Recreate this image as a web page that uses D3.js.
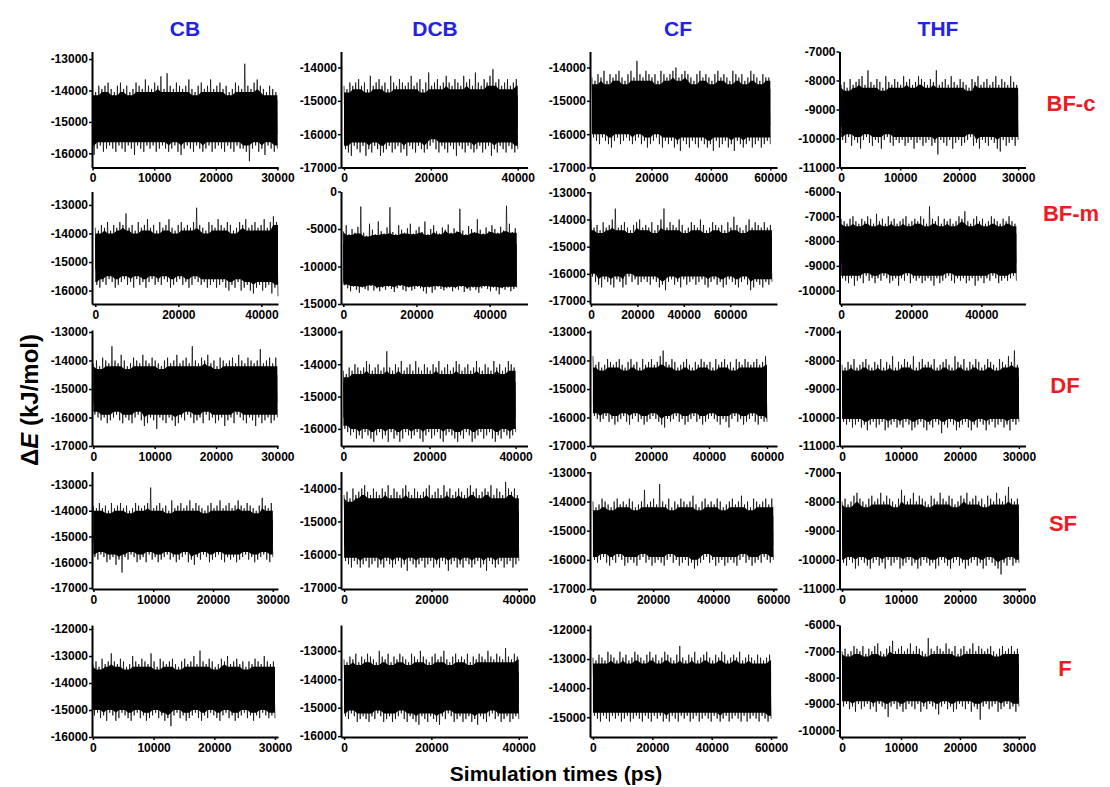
<!DOCTYPE html>
<html>
<head>
<meta charset="utf-8">
<script src="https://cdn.jsdelivr.net/npm/d3@7"></script>
<style>
  body { margin: 0; background: #fff; }
  text { font-family: "Liberation Sans", Arial, sans-serif; font-weight: bold; }
</style>
</head>
<body>
<svg id="chart"></svg>
<script>
// ---- data (kJ/mol, ps) ----
const solvents = ['CB', 'DCB', 'CF', 'THF']
const forms = ['BF-c', 'BF-m', 'DF', 'SF', 'F']

// panels are row-major: form by form, solvents left to right
const runLength = [
    30000, 40000, 60000, 30000,
    44000, 47400, 78000, 50000,
    30000, 40000, 60000, 30000,
    30000, 40000, 60000, 30000,
    30000, 40000, 60000, 30000
]
const xTicks = [
    [0, 10000, 20000, 30000], [0, 20000, 40000], [0, 20000, 40000, 60000], [0, 10000, 20000, 30000],
    [0, 20000, 40000], [0, 20000, 40000], [0, 20000, 40000, 60000], [0, 20000, 40000],
    [0, 10000, 20000, 30000], [0, 20000, 40000], [0, 20000, 40000, 60000], [0, 10000, 20000, 30000],
    [0, 10000, 20000, 30000], [0, 20000, 40000], [0, 20000, 40000, 60000], [0, 10000, 20000, 30000],
    [0, 10000, 20000, 30000], [0, 20000, 40000], [0, 20000, 40000, 60000], [0, 10000, 20000, 30000]
]
const xRange = [
    [-90, 30100], [-700, 42250], [-675, 62250], [-290, 31250],
    [-790, 44000], [-630, 50350], [-430, 80200], [-480, 52600],
    [-225, 30110], [-555, 42770], [-1020, 63450], [-440, 31125],
    [-230, 30870], [-710, 41980], [-985, 61230], [-440, 31125],
    [-150, 30500], [-700, 42000], [-1000, 62000], [-440, 31125]
]
const yTicks = [
    [-13000, -14000, -15000, -16000], [-14000, -15000, -16000, -17000], [-14000, -15000, -16000, -17000], [-7000, -8000, -9000, -10000, -11000],
    [-13000, -14000, -15000, -16000], [0, -5000, -10000, -15000], [-13000, -14000, -15000, -16000, -17000], [-6000, -7000, -8000, -9000, -10000],
    [-13000, -14000, -15000, -16000, -17000], [-13000, -14000, -15000, -16000], [-13000, -14000, -15000, -16000, -17000], [-7000, -8000, -9000, -10000, -11000],
    [-13000, -14000, -15000, -16000, -17000], [-14000, -15000, -16000, -17000], [-13000, -14000, -15000, -16000, -17000], [-7000, -8000, -9000, -10000, -11000],
    [-12000, -13000, -14000, -15000, -16000], [-13000, -14000, -15000, -16000], [-12000, -13000, -14000, -15000], [-6000, -7000, -8000, -9000, -10000]
]
const yRange = [
    [-16450, -12760], [-17000, -13520], [-17000, -13520], [-11000, -7000],
    [-16470, -12530], [-15000, 0], [-17110, -12970], [-10540, -6000],
    [-17000, -12930], [-16530, -12940], [-17000, -12930], [-11000, -6930],
    [-17040, -12476], [-17050, -13485], [-17000, -12970], [-11000, -6970],
    [-16000, -11850], [-16030, -12090], [-15680, -11830], [-10260, -6000]
]
// centre of the trace and half-height of its solid black core
const meanE = [
    -14850, -15350, -15200, -9050,
    -14700, -9500, -15200, -8300,
    -15000, -15100, -15050, -9150,
    -14800, -15200, -15000, -9000,
    -14200, -14300, -13950, -8000
]
const coreHalf = [
    550, 500, 550, 550,
    550, 2500, 550, 600,
    500, 550, 500, 550,
    450, 550, 500, 550,
    500, 550, 550, 550
]
// spike heights above / below the centre along the run, in units of 100 kJ/mol
const upperEnv = [
    [9,8,10,9,10,11,9,8,10,11,9,10,8,9,11,10,9,12,10,9,11,10,13,9,14,10,9,11,10,9,10,12,9,8,10,11,9,10,12,9,10,11,9,10,8,9,11,10,9,17,10,9,11,12,10,9,8,10,9,8],
    [8,7,9,8,9,10,8,9,7,11,8,9,10,8,9,7,11,9,8,10,9,8,9,11,8,9,10,7,9,12,8,9,10,8,9,11,9,8,10,9,8,11,9,10,8,12,9,8,10,9,11,13,9,10,8,9,10,8,9,10],
    [9,8,10,9,11,8,10,9,10,11,9,8,10,11,9,14,10,9,11,10,9,10,8,11,10,9,10,11,12,9,10,11,10,9,8,10,11,9,10,9,8,10,11,9,10,9,8,11,10,9,10,8,9,11,10,9,8,10,9,9],
    [9,10,8,11,9,10,11,12,9,14,10,9,11,10,8,12,10,9,11,10,9,12,10,11,9,10,12,11,10,9,11,10,14,9,10,11,9,12,10,9,11,10,9,8,11,10,12,9,10,11,9,10,12,9,11,10,9,12,10,9],
    [9,8,10,9,11,8,10,9,11,10,14,9,10,8,11,9,10,12,9,10,8,11,9,10,12,9,8,10,11,9,10,9,11,16,10,9,8,11,10,9,12,10,9,11,10,8,9,11,10,12,9,10,11,9,10,12,9,11,13,11],
    [42,50,38,45,40,48,75,40,36,52,44,38,55,42,39,47,74,41,38,50,44,40,46,52,39,43,48,41,55,38,45,50,42,39,47,44,51,40,46,42,72,43,38,49,45,41,58,44,39,47,42,50,45,40,48,43,76,52,41,46],
    [12,9,10,8,11,9,10,12,16,9,10,11,9,8,10,11,12,9,10,9,11,8,10,12,16,9,11,10,9,12,10,8,9,11,10,9,12,10,8,9,11,10,9,10,8,11,9,13,10,9,8,10,12,9,11,10,9,11,9,10],
    [12,11,10,12,13,11,10,12,11,13,12,10,14,11,12,10,13,11,12,10,11,12,13,10,11,12,11,13,12,10,17,12,11,13,10,12,11,12,10,11,13,12,15,11,10,12,13,11,12,10,11,13,12,11,10,12,11,13,11,10],
    [9,10,8,11,10,9,15,10,9,12,10,8,9,11,10,9,12,10,9,11,10,9,8,10,11,9,10,12,9,10,11,9,15,10,9,11,10,12,9,10,8,11,10,9,10,11,9,12,10,9,11,10,9,10,14,9,10,11,9,11],
    [9,8,10,9,11,10,9,10,12,11,9,10,11,9,10,15,10,9,11,10,12,9,10,11,9,12,10,9,11,10,9,11,10,12,9,10,11,9,10,12,11,9,10,11,9,10,12,10,9,11,10,9,12,10,11,9,10,12,11,10],
    [12,9,10,8,9,11,10,9,10,11,9,8,10,11,9,10,8,11,9,10,11,9,10,12,14,10,9,11,10,8,9,10,11,9,8,10,9,11,10,9,10,8,11,9,10,11,9,10,8,11,10,9,11,10,9,10,11,9,10,12],
    [10,9,11,10,12,9,10,11,12,10,9,11,10,12,9,11,10,13,9,11,10,12,11,10,13,9,11,12,10,11,10,12,9,10,11,12,10,9,13,11,10,12,9,11,10,12,11,9,10,12,11,10,9,12,11,10,13,11,15,10],
    [10,9,11,9,10,8,11,9,10,11,9,10,8,9,11,10,9,10,11,17,9,10,11,9,10,8,12,9,10,11,9,10,12,9,11,10,9,8,10,11,9,10,12,9,10,11,9,10,12,10,9,11,10,9,8,10,13,10,9,11],
    [10,11,9,12,10,11,12,13,11,10,12,11,10,12,11,13,10,12,11,10,12,13,11,10,12,11,10,11,12,13,10,11,12,10,13,11,12,10,11,12,11,10,12,13,11,12,10,11,12,11,13,10,12,11,10,14,12,11,12,10],
    [10,8,9,11,10,9,8,10,11,9,10,9,11,10,8,9,10,14,9,10,11,9,16,10,9,11,8,10,9,11,10,9,10,12,9,8,10,11,9,10,9,11,10,8,9,10,11,9,10,12,9,10,8,11,10,9,10,11,9,11],
    [10,11,9,10,12,13,11,10,9,11,12,10,11,13,10,12,11,10,9,11,14,12,10,11,13,10,12,11,10,9,12,11,10,13,11,10,12,11,9,10,12,11,13,10,11,12,10,11,9,12,11,10,13,11,10,12,15,11,10,11],
    [9,10,8,11,9,10,13,10,9,11,10,8,9,12,10,9,11,10,9,13,10,8,11,10,9,10,11,9,8,10,11,9,10,12,9,14,10,9,11,10,8,9,11,10,12,9,10,11,9,10,8,10,9,11,10,9,12,10,9,10],
    [10,9,11,10,12,9,11,10,12,11,10,9,13,11,10,12,9,11,10,12,11,10,9,12,11,10,13,11,10,9,11,12,10,11,13,10,9,11,12,10,11,10,12,9,11,10,12,11,10,13,11,10,12,11,10,14,11,10,12,11],
    [10,9,11,10,9,12,11,10,9,12,10,11,9,10,12,11,10,9,11,12,10,11,9,10,12,11,10,9,11,14,10,9,11,10,12,9,10,11,12,10,9,11,10,12,11,9,10,11,10,12,9,10,11,10,9,11,10,9,10,11],
    [10,11,9,10,12,11,10,12,9,11,10,12,13,10,9,11,12,14,10,11,12,10,11,13,10,12,11,10,9,15,11,10,12,11,10,13,11,10,12,9,11,12,10,11,13,10,12,11,10,11,12,10,9,11,12,10,11,12,10,11]
]
const lowerEnv = [
    [12,10,9,11,10,9,10,11,9,10,11,9,10,12,9,10,11,9,10,9,11,10,9,10,11,10,9,11,12,10,9,10,11,9,10,11,10,9,11,10,9,10,11,9,10,11,9,10,10,11,14,10,9,11,10,12,9,10,11,10],
    [11,12,13,10,11,12,10,13,11,12,10,11,13,12,11,10,12,11,10,12,11,13,10,11,12,10,11,12,11,10,9,11,12,10,11,12,10,11,13,10,11,12,10,11,12,11,10,12,11,10,13,11,12,10,11,12,10,11,12,11],
    [9,10,11,9,10,11,12,10,9,11,10,9,10,11,10,9,11,10,12,11,10,9,11,12,10,11,10,12,11,13,10,11,12,10,11,12,10,11,12,11,13,10,12,11,10,12,11,13,10,11,12,11,10,12,11,10,12,11,10,11],
    [10,11,9,12,10,11,13,10,9,11,12,10,11,13,10,9,11,12,10,11,10,12,11,10,13,11,10,12,11,10,12,11,15,10,11,12,10,13,11,10,12,11,10,9,12,11,13,10,11,12,10,11,13,14,10,12,11,10,12,10],
    [11,12,10,11,9,10,12,11,10,9,11,10,12,9,11,10,12,10,9,11,10,11,9,10,12,11,10,9,11,10,12,11,9,10,11,10,12,11,10,12,11,10,12,13,11,12,10,13,12,11,13,14,12,11,13,12,11,14,12,15],
    [30,34,38,32,36,40,33,35,37,31,37,34,38,33,36,32,35,39,34,31,36,38,33,37,35,32,34,38,41,33,40,36,32,35,37,34,33,38,34,36,32,39,35,37,33,36,40,34,32,35,38,33,37,42,34,36,33,38,35,33],
    [9,11,12,13,10,11,12,13,10,11,13,12,9,11,10,12,11,10,11,12,10,11,13,12,14,11,10,12,11,13,10,12,11,10,12,11,10,12,13,11,10,12,11,13,12,10,11,12,13,11,10,12,14,13,11,12,13,11,12,11],
    [12,13,14,12,15,13,12,14,11,13,12,14,12,13,11,12,14,13,12,15,12,13,11,14,12,13,12,14,13,12,13,15,12,14,13,12,11,13,14,12,13,12,14,13,12,15,13,12,14,12,13,11,12,14,13,12,13,12,11,13],
    [9,10,11,10,12,11,10,9,11,12,10,11,12,10,9,11,13,12,10,11,14,10,11,12,10,11,13,12,10,11,9,10,12,11,10,12,9,11,10,12,11,10,13,11,10,12,9,10,11,12,10,11,13,10,12,11,10,12,11,10],
    [9,10,11,10,12,11,12,10,11,12,13,11,10,12,11,13,10,12,11,13,12,10,11,12,11,10,12,13,11,10,12,11,10,12,13,11,10,11,12,13,11,12,10,11,13,12,11,10,12,11,10,12,13,11,12,10,11,12,11,10],
    [9,10,11,10,9,11,10,12,11,10,9,11,12,10,9,11,10,12,11,10,9,10,11,12,13,10,11,10,9,11,10,12,11,10,9,11,10,12,11,10,9,10,11,12,10,11,13,10,9,11,10,12,11,10,9,11,12,10,11,11],
    [10,11,10,12,11,10,12,11,13,11,10,12,11,10,13,12,11,10,12,11,12,10,11,13,12,11,10,12,13,11,12,10,11,14,11,12,10,11,13,12,11,10,12,13,11,12,10,11,13,11,10,12,11,10,12,11,13,10,11,10],
    [10,11,9,10,12,11,10,13,11,16,10,11,9,10,12,11,10,12,9,11,10,12,11,10,9,11,10,12,11,10,9,12,11,13,10,11,9,10,12,11,10,9,11,12,10,11,10,12,11,10,9,11,10,12,11,10,9,11,12,10],
    [10,11,12,10,11,12,11,10,12,11,10,12,11,12,10,11,12,11,10,12,11,13,10,11,12,11,10,12,11,10,12,11,12,10,11,13,11,10,12,11,12,10,11,12,11,10,12,11,13,10,11,12,11,10,12,11,10,12,11,10],
    [10,11,10,9,11,12,10,11,9,10,12,11,10,11,12,10,9,11,10,12,11,10,11,12,10,9,11,10,12,11,10,12,11,13,12,11,10,9,11,10,12,11,10,12,11,10,11,12,10,9,11,10,12,11,10,11,9,10,11,10],
    [11,12,10,11,13,12,10,11,12,13,11,10,12,11,13,10,12,11,10,13,12,11,10,12,11,13,12,10,11,12,11,13,12,10,11,12,13,11,10,12,11,13,12,11,10,12,11,13,12,10,11,12,13,15,11,12,10,12,11,11],
    [10,9,11,10,12,9,10,12,11,9,10,11,12,10,9,11,10,12,11,10,9,11,10,12,11,14,10,9,11,10,12,11,10,9,11,12,10,11,9,10,11,12,10,9,11,10,12,11,10,9,11,10,12,10,11,9,10,11,10,11],
    [10,11,9,10,12,11,10,11,12,10,11,9,10,12,11,10,12,11,10,9,11,12,10,11,12,13,10,11,12,10,11,12,13,10,11,9,10,12,11,10,12,11,10,12,11,13,10,11,12,10,9,11,10,12,11,10,12,11,10,11],
    [10,11,12,10,11,12,10,11,10,12,11,10,12,11,10,11,12,10,11,12,10,11,10,12,11,12,10,11,12,10,11,10,12,11,10,12,11,10,11,12,10,11,12,11,10,12,11,10,11,12,10,12,11,10,11,12,10,11,12,11],
    [11,10,12,11,13,10,12,11,10,12,11,13,10,11,12,15,11,10,12,11,13,12,10,11,12,10,13,11,12,10,11,12,14,11,10,12,11,13,12,10,11,12,10,13,11,12,16,11,10,12,11,10,13,12,11,10,12,11,13,11]
]

// ---- layout ----
const width = 1110, height = 787
const colLeft = [92, 341, 590, 839.5]
const colRight = [278, 527.5, 777, 1025.5]
const rowTop = [51.5, 191.5, 330, 471.5, 625]
const rowBottom = [167.5, 304, 446, 589, 737]
const colTitleX = [185, 435, 678, 938]
const rowTitleY = [103, 213, 385, 523, 668]
const rowTitleX = [1071, 1071, 1065, 1063, 1065]

let svg = d3.select('#chart')
    .attr('width', width)
    .attr('height', height)

let fmt = d => String(d)

// the dense part of the trace stops a little short of the lower neighbouring peak
function denseEdge(arr, i) {
    let a = arr[Math.max(i - 1, 0)], b = arr[i], c = arr[Math.min(i + 1, arr.length - 1)]
    return Math.min(a, b, c) - 1
}

forms.forEach((form, r) => {
    solvents.forEach((solvent, c) => {
        let p = r * solvents.length + c
        let x = d3.scaleLinear().domain(xRange[p]).range([colLeft[c], colRight[c]])
        let y = d3.scaleLinear().domain(yRange[p]).range([rowBottom[r], rowTop[r]])
        let $g = svg.append('g').attr('class', 'panel ' + solvent + '-' + form)

        let hi = upperEnv[p], lo = lowerEnv[p]
        let n = hi.length
        let tUp = i => runLength[p] * (2 * i) / (2 * n - 1)
        let tDown = i => runLength[p] * (2 * i + 1) / (2 * n - 1)

        // zigzag trace: alternate between upper and lower excursions
        let pts = []
        for (let i = 0; i < n; i++) {
            pts.push([tUp(i), meanE[p] + hi[i] * 100])
            pts.push([tDown(i), meanE[p] - lo[i] * 100])
        }
        // outline of the dense band
        let band = []
        for (let i = 0; i < n; i++) band.push([tUp(i), meanE[p] + denseEdge(hi, i) * 100])
        band.push([runLength[p], meanE[p] + denseEdge(hi, n - 1) * 100])
        for (let i = n - 1; i >= 0; i--) band.push([tDown(i), meanE[p] - denseEdge(lo, i) * 100])
        band.push([0, meanE[p] - denseEdge(lo, 0) * 100])

        let line = d3.line().x(d => x(d[0])).y(d => y(d[1]))

        $g.append('path')
            .attr('d', line(band) + 'Z')
            .attr('fill', '#000')
        $g.append('rect')
            .attr('x', x(0))
            .attr('y', y(meanE[p] + coreHalf[p]))
            .attr('width', x(runLength[p]) - x(0))
            .attr('height', y(meanE[p] - coreHalf[p]) - y(meanE[p] + coreHalf[p]))
            .attr('fill', '#000')
        $g.append('path')
            .attr('d', line(pts))
            .attr('fill', 'none')
            .attr('stroke', '#000')
            .attr('stroke-width', 0.7)
            .attr('stroke-linejoin', 'miter')

        let $yAxis = $g.append('g')
            .attr('transform', 'translate(' + colLeft[c] + ',0)')
            .call(d3.axisLeft(y).tickValues(yTicks[p]).tickFormat(fmt)
                .tickSize(3).tickSizeOuter(0).tickPadding(1))
        let $xAxis = $g.append('g')
            .attr('transform', 'translate(0,' + rowBottom[r] + ')')
            .call(d3.axisBottom(x).tickValues(xTicks[p]).tickFormat(fmt)
                .tickSize(3).tickSizeOuter(0).tickPadding(3))
        ;[$yAxis, $xAxis].forEach($a => {
            $a.select('.domain').attr('stroke-width', 2).attr('stroke', '#000')
            $a.selectAll('.tick line').attr('stroke-width', 1.5).attr('stroke', '#000')
            $a.selectAll('.tick text')
                .attr('fill', '#000')
                .style('font-size', '12px')
                .style('font-family', '"Liberation Sans", Arial, sans-serif')
                .style('font-weight', 'bold')
        })
    })
})

// column titles
svg.selectAll('text.col-title')
    .data(solvents)
    .enter().append('text')
    .attr('class', 'col-title')
    .attr('x', (d, i) => colTitleX[i])
    .attr('y', 36)
    .attr('text-anchor', 'middle')
    .attr('fill', '#2323e6')
    .style('font-size', '21px')
    .text(d => d)

// row titles
svg.selectAll('text.row-title')
    .data(forms)
    .enter().append('text')
    .attr('class', 'row-title')
    .attr('x', (d, i) => rowTitleX[i])
    .attr('y', (d, i) => rowTitleY[i] + 8)
    .attr('text-anchor', 'middle')
    .attr('fill', '#ec1c24')
    .style('font-size', '22px')
    .text(d => d)

// axis titles
let $yTitle = svg.append('text')
    .attr('transform', 'translate(38,400) rotate(-90)')
    .attr('text-anchor', 'middle')
    .attr('fill', '#000')
    .style('font-size', '24px')
$yTitle.append('tspan').text('\u0394')
$yTitle.append('tspan').style('font-style', 'italic').text('E')
$yTitle.append('tspan').text(' (kJ/mol)')

svg.append('text')
    .attr('x', 556)
    .attr('y', 781)
    .attr('text-anchor', 'middle')
    .attr('fill', '#000')
    .style('font-size', '21px')
    .text('Simulation times (ps)')
</script>
</body>
</html>
